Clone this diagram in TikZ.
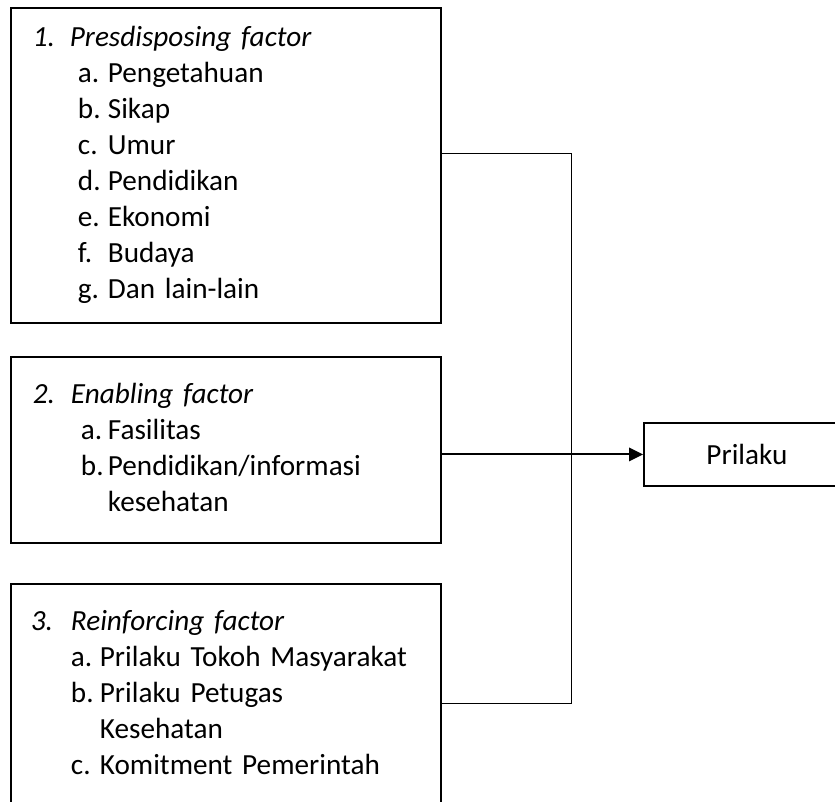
\documentclass[tikz,border=0pt]{standalone}
\usepackage{fontspec}
\setmainfont{Carlito}
\usetikzlibrary{arrows.meta}
\newlength\px
\setlength\px{0.75pt}
\newcommand\entry[4]{\strut\hspace*{#1\px}\makebox[#2\px][l]{#3}\mbox{#4}}

\begin{document}
\begin{tikzpicture}[x=0.75pt,y=-0.75pt,
  factorbox/.style={draw,line width=1.4pt,anchor=north west,align=left,
    text width=289.5pt,inner xsep=16.5pt,inner ysep=0pt,
    font=\fontsize{21.9pt}{27pt}\selectfont},
  outcome/.style={draw,line width=1.4pt,anchor=north west,minimum width=154.5pt,
    minimum height=47.25pt,inner sep=0pt,font=\fontsize{21.9pt}{27pt}\selectfont},
  link/.style={line width=0.75pt},
  flow/.style={line width=1.5pt,-{Triangle[length=10.5pt,width=10pt]}}]
  \useasboundingbox (0,0) rectangle (835,802);
  \clip (0,0) rectangle (835,802);

  \node[factorbox,minimum height=236.25pt] (predis) at (10,7) {%
    \entry{0}{37}{\itshape 1.}{\itshape Presdisposing factor}\\
    \entry{45}{30}{a.}{Pengetahuan}\\
    \entry{45}{30}{b.}{Sikap}\\
    \entry{45}{30}{c.}{Umur}\\
    \entry{45}{30}{d.}{Pendidikan}\\
    \entry{45}{30}{e.}{Ekonomi}\\
    \entry{45}{30}{f.}{Budaya}\\
    \entry{45}{30}{g.}{Dan lain-lain}};

  \node[factorbox,minimum height=139.5pt] (enab) at (10,356) {%
    \entry{0}{38}{\itshape 2.}{\itshape Enabling factor}\\
    \entry{48}{27}{a.}{Fasilitas}\\
    \entry{48}{27}{b.}{Pendidikan/informasi}\\
    \entry{75}{0}{}{kesehatan}};

  \node[factorbox,minimum height=167.25pt,inner xsep=15pt,text width=292.5pt] (reinf) at (10,583) {%
    \entry{0}{40}{\itshape 3.}{\itshape Reinforcing factor}\\
    \entry{40}{29}{a.}{Prilaku Tokoh Masyarakat}\\
    \entry{40}{29}{b.}{Prilaku Petugas}\\
    \entry{69}{0}{}{Kesehatan}\\
    \entry{40}{29}{c.}{Komitment Pemerintah}};

  \node[outcome] (prilaku) at (643,422) {Prilaku};

  \coordinate (topbend) at (571,154);
  \coordinate (lowbend) at (571,703);
  \draw[link] (predis.east |- topbend) -- (topbend) -- (lowbend) -- (reinf.east |- lowbend);
  \draw[flow] (enab.east |- prilaku.west) -- (prilaku.west);
\end{tikzpicture}
\end{document}
